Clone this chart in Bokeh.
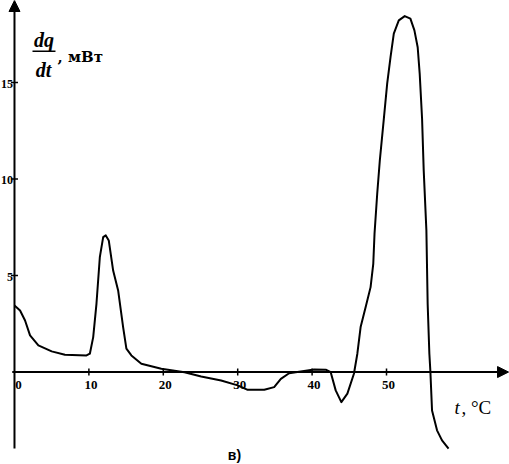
from bokeh.plotting import figure
from bokeh.models import Arrow, NormalHead, Range1d, Label
from bokeh.core.properties import value
from bokeh.embed import file_html
from bokeh.resources import INLINE
import math

# temperature, °C
t = [0.0, 0.75, 1.42, 2.09, 3.21, 5.0, 6.78, 9.68, 10.13, 10.58, 11.02, 11.47,
     11.92, 12.27, 12.67, 13.26, 13.93, 14.60, 15.04, 15.71, 17.05, 19.73,
     22.85, 25.09, 27.77, 30.0, 31.34, 33.57, 34.9, 35.8, 36.91, 38.92, 40.26,
     41.83, 42.5, 43.17, 43.93, 44.74, 45.62, 46.08, 46.52, 47.19, 47.86,
     48.22, 48.39, 48.75, 49.10, 49.64, 50.09, 50.54, 50.98, 51.65, 52.45,
     53.21, 53.75, 54.19, 54.46, 54.78, 55.0, 55.36, 55.53, 55.76, 55.89,
     56.12, 56.79, 57.46, 58.34]
# heat flow dq/dt, mW
q = [3.45, 3.19, 2.67, 1.90, 1.38, 1.07, 0.90, 0.86, 0.95, 1.81, 3.55, 5.95,
     6.99, 7.08, 6.82, 5.26, 4.23, 2.33, 1.21, 0.86, 0.43, 0.17,
     -0.01, -0.23, -0.44, -0.69, -0.92, -0.92, -0.78, -0.35, -0.06, 0.05, 0.13,
     0.12, -0.01, -0.95, -1.56, -1.12, -0.09, 0.95, 2.33, 3.36, 4.40,
     5.61, 7.17, 9.24, 10.96, 13.12, 14.94, 16.32, 17.53, 18.22, 18.44,
     18.31, 17.70, 16.83, 15.46, 13.12, 10.45, 7.34, 3.54, 0.95, 0.08,
     -1.99, -3.02, -3.54, -3.97]

x_ticks = [0, 10, 20, 30, 40, 50]
x_tick_labels = ["0", "10", "20", "30", "40", "50"]
y_ticks = [5, 10, 15]
y_tick_labels = ["5", "10", "15"]

X0, X1 = -1.88, 66.53
Y0, Y1 = -4.79, 19.25

p = figure(width=509, height=464, x_range=Range1d(X0, X1), y_range=Range1d(Y0, Y1),
           x_axis_type=None, y_axis_type=None, output_backend="svg",
           toolbar_location=None, min_border=0)
p.grid.visible = False
p.outline_line_color = None
p.background_fill_color = "white"
p.border_fill_color = "white"

# axes with arrows
p.add_layout(Arrow(end=NormalHead(size=11, fill_color="black", line_color="black"),
                   x_start=-0.3, y_start=0, x_end=66.4, y_end=0,
                   line_width=2, line_color="black"))
p.add_layout(Arrow(end=NormalHead(size=11, fill_color="black", line_color="black"),
                   x_start=0, y_start=-3.96, x_end=0, y_end=Y1,
                   line_width=2, line_color="black"))

# ticks
p.scatter(x_ticks[1:], [0] * (len(x_ticks) - 1), marker="dash", size=7,
          angle=math.pi / 2, line_color="black", line_width=1.5)
p.scatter([0] * len(y_ticks), y_ticks, marker="dash", size=7,
          line_color="black", line_width=1.5)

tick_font = value("Liberation Serif")
p.text(x=x_ticks[1:], y=[0] * (len(x_ticks) - 1), text=x_tick_labels[1:],
       text_align="center", text_baseline="top", x_offset=2, y_offset=9,
       text_font=tick_font, text_font_style="bold", text_font_size="13px",
       text_color="black")
p.text(x=x_ticks[:1], y=[0], text=x_tick_labels[:1],
       text_align="center", text_baseline="top", x_offset=4, y_offset=9,
       text_font=tick_font, text_font_style="bold", text_font_size="13px",
       text_color="black")
p.text(x=[0] * len(y_ticks), y=y_ticks, text=y_tick_labels,
       text_align="right", text_baseline="middle", x_offset=-1.5, y_offset=1,
       text_font=tick_font, text_font_style="bold", text_font_size="12px",
       text_color="black")

# curve
p.line(t, q, line_width=2, line_color="black", line_join="round")

# y-axis title: dq/dt, мВт
p.add_layout(Label(x=3.97, y=17.2, text="dq", text_align="center",
                   text_baseline="alphabetic", text_font="Liberation Serif",
                   text_font_style="bold italic", text_font_size="20px",
                   text_color="black"))
p.segment(x0=[2.42], y0=[16.62], x1=[5.51], y1=[16.62], line_color="black",
          line_width=1.5)
p.add_layout(Label(x=3.90, y=15.63, text="dt", text_align="center",
                   text_baseline="alphabetic", text_font="Liberation Serif",
                   text_font_style="bold italic", text_font_size="20px",
                   text_color="black"))
p.add_layout(Label(x=5.78, y=16.3, text=", мВт", text_align="left",
                   text_baseline="alphabetic", text_font="DejaVu Serif",
                   text_font_style="bold", text_font_size="15px",
                   text_color="black"))

# x-axis title: t, °C
p.add_layout(Label(x=59.14, y=-1.83, text="t", text_align="left",
                   text_baseline="alphabetic", text_font="Liberation Serif",
                   text_font_style="italic", text_font_size="19px",
                   text_color="black"))
p.add_layout(Label(x=60.08, y=-1.83, text=", °C", text_align="left",
                   text_baseline="alphabetic", text_font="Liberation Serif",
                   text_font_size="19px", text_color="black"))

# panel caption
p.add_layout(Label(x=29.57, y=-4.3, text="в)", text_align="center",
                   text_baseline="alphabetic", text_font="Liberation Sans",
                   text_font_style="bold", text_font_size="14px",
                   text_color="black"))

open("out.html", "w").write(file_html(p, INLINE))
